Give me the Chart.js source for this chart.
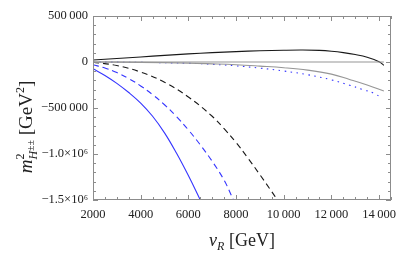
<!DOCTYPE html>
<html>
<head>
<meta charset="utf-8">
<script src="https://cdn.jsdelivr.net/npm/chart.js@4.4.1/dist/chart.umd.min.js"></script>
<style>
  html, body { margin: 0; padding: 0; background: #fff; }
  #wrap { width: 407px; height: 257px; }
</style>
</head>
<body>
<div id="wrap"><canvas id="chart"></canvas></div>
<script>
// values (vR in GeV, m^2 in GeV^2)
var vrBlack = [2000, 3000, 4000, 5000, 6000, 7000, 8000, 9000, 10000, 10800, 11500, 12000, 12500, 13000, 13500, 14000, 14200];
var mBlack  = [22000, 38000, 55000, 72000, 88000, 102000, 113000, 122000, 128000, 130000, 126000, 117000, 102000, 81000, 52000, 4000, -36000];

var vrZero = [2000, 14200];
var mZero  = [0, 0];

var vrGray = [2000, 4000, 6000, 7000, 8000, 9000, 10000, 11000, 12000, 12760, 13500, 14200];
var mGray  = [0, -4000, -12000, -20000, -30000, -45000, -62000, -88000, -132000, -190000, -250000, -315000];

var vrBlueDot = [2000, 4000, 6000, 7000, 8000, 9000, 10000, 11000, 12000, 12760, 13300, 13800, 14100];
var mBlueDot  = [0, -4000, -14000, -25000, -42000, -66000, -98000, -138000, -194000, -252000, -298000, -342000, -392000];

var vrBlackDash = [2000, 3000, 4000, 5000, 6000, 7000, 7500, 8000, 8500, 9000, 9500, 9750];
var mBlackDash  = [-2000, -38000, -110000, -220000, -380000, -590000, -725000, -875000, -1045000, -1225000, -1410000, -1505000];

var vrBlueDash = [2000, 2500, 3000, 3500, 4000, 4500, 5000, 5500, 6000, 6500, 7000, 7500, 7900];
var mBlueDash  = [-30000, -65000, -115000, -180000, -260000, -355000, -465000, -592000, -738000, -900000, -1080000, -1285000, -1505000];

var vrBlue = [2000, 2500, 3000, 3500, 4000, 4500, 5000, 5500, 6000, 6510];
var mBlue  = [-73000, -146000, -232000, -332000, -447000, -590000, -770000, -990000, -1235000, -1505000];

var xTicks = [2000, 4000, 6000, 8000, 10000, 12000, 14000];
var yTicks = [500000, 0, -500000, -1000000, -1500000];
var yTickLabels = ['500\u2009000', '0', '\u2212500\u2009000', '\u22121.0\u00d710\u2076', '\u22121.5\u00d710\u2076'];

function pts(xs, ys) {
  return xs.map(function (x, i) { return { x: x, y: ys[i] }; });
}

var BLUE = 'rgb(52,52,255)';
var GRAY = 'rgb(150,150,150)';
var BLACK = 'rgb(25,25,25)';
var serif = '"Liberation Serif", "DejaVu Serif", serif';

function line(data, color, dash) {
  return {
    data: data, borderColor: color, borderWidth: 1.1, borderDash: dash || [],
    pointRadius: 0, fill: false, tension: 0.4
  };
}

// frame with inward ticks on all four sides, like the original
var frameTicks = {
  id: 'frameTicks',
  afterDraw: function (chart) {
    var ctx = chart.ctx, a = chart.chartArea, xs = chart.scales.x, ys = chart.scales.y;
    ctx.save();
    ctx.strokeStyle = 'rgb(140,140,140)';
    ctx.lineWidth = 1;
    ctx.strokeRect(a.left + 0.5, a.top + 0.5, a.right - a.left - 1, a.bottom - a.top - 1);
    ctx.beginPath();
    for (var v = 2000; v <= 14500; v += 500) {
      var px = Math.round(xs.getPixelForValue(v)) + 0.5;
      var len = xTicks.indexOf(v) >= 0 ? 5 : 3;
      ctx.moveTo(px, a.bottom); ctx.lineTo(px, a.bottom - len);
      ctx.moveTo(px, a.top); ctx.lineTo(px, a.top + len);
    }
    for (var w = -1500000; w <= 500000; w += 100000) {
      var py = Math.round(ys.getPixelForValue(w)) + 0.5;
      var l2 = yTicks.indexOf(w) >= 0 ? 5 : 3;
      ctx.moveTo(a.left, py); ctx.lineTo(a.left + l2, py);
      ctx.moveTo(a.right, py); ctx.lineTo(a.right - l2, py);
    }
    ctx.stroke();

    // axis titles
    ctx.fillStyle = '#222';
    ctx.textBaseline = 'alphabetic';
    function rich(parts, cx, cy) {
      var total = 0;
      parts.forEach(function (p) {
        ctx.font = (p.it ? 'italic ' : '') + p.size + 'px ' + serif;
        p.w = ctx.measureText(p.t).width;
        if (!p.stack) total += p.w;
      });
      var x = cx - total / 2;
      parts.forEach(function (p) {
        ctx.font = (p.it ? 'italic ' : '') + p.size + 'px ' + serif;
        ctx.fillText(p.t, x, cy + (p.dy || 0));
        if (!p.stack) x += p.w;
      });
    }
    // x title: v_R [GeV]
    rich([
      { t: 'v', it: true, size: 18 },
      { t: 'R', it: true, size: 12, dy: 4 },
      { t: ' [GeV]', size: 18 }
    ], 242, 246);
    // y title: m^2_{H±±} [GeV^2], rotated
    ctx.save();
    ctx.translate(32, 127);
    ctx.rotate(-Math.PI / 2);
    rich([
      { t: 'm', it: true, size: 19 },
      { t: '2', size: 12, dy: -8, stack: true },
      { t: 'H', it: true, size: 12, dy: 5 },
      { t: '\u00b1\u00b1', size: 10, dy: 2 },
      { t: ' [GeV', size: 19 },
      { t: '2', size: 12, dy: -8 },
      { t: ']', size: 19 }
    ], 0, 0);
    ctx.restore();
    ctx.restore();
  }
};

new Chart(document.getElementById('chart'), {
  type: 'line',
  data: {
    datasets: [
      line(pts(vrZero, mZero), GRAY),
      line(pts(vrGray, mGray), GRAY),
      line(pts(vrBlueDot, mBlueDot), BLUE, [1.5, 4.5]),
      line(pts(vrBlack, mBlack), BLACK),
      line(pts(vrBlackDash, mBlackDash), BLACK, [6, 4]),
      line(pts(vrBlueDash, mBlueDash), BLUE, [6, 4]),
      line(pts(vrBlue, mBlue), BLUE)
    ]
  },
  options: {
    responsive: true,
    maintainAspectRatio: false,
    animation: false,
    devicePixelRatio: 1,
    layout: { padding: { left: 0, top: 16, right: 16, bottom: 0 } },
    plugins: { legend: { display: false }, tooltip: { enabled: false } },
    scales: {
      x: {
        type: 'linear', min: 2000, max: 14500,
        grid: { display: false, drawTicks: false },
        border: { display: false },
        afterBuildTicks: function (s) { s.ticks = xTicks.map(function (v) { return { value: v }; }); },
        afterFit: function (s) { s.height = 57; },
        ticks: {
          padding: 7, maxRotation: 0, autoSkip: false,
          color: '#222', font: { family: serif, size: 12.5 },
          callback: function (v) { return v >= 10000 ? String(v).slice(0, 2) + '\u2009' + String(v).slice(2) : String(v); }
        }
      },
      y: {
        type: 'linear', min: -1500000, max: 500000,
        grid: { display: false, drawTicks: false },
        border: { display: false },
        afterBuildTicks: function (s) { s.ticks = yTicks.map(function (v) { return { value: v }; }); },
        afterFit: function (s) { s.width = 93; },
        ticks: {
          padding: 5, autoSkip: false,
          color: '#222', font: { family: serif, size: 12.5 },
          callback: function (v) { var i = yTicks.indexOf(v); return i >= 0 ? yTickLabels[i] : ''; }
        }
      }
    }
  },
  plugins: [frameTicks]
});
</script>
</body>
</html>
